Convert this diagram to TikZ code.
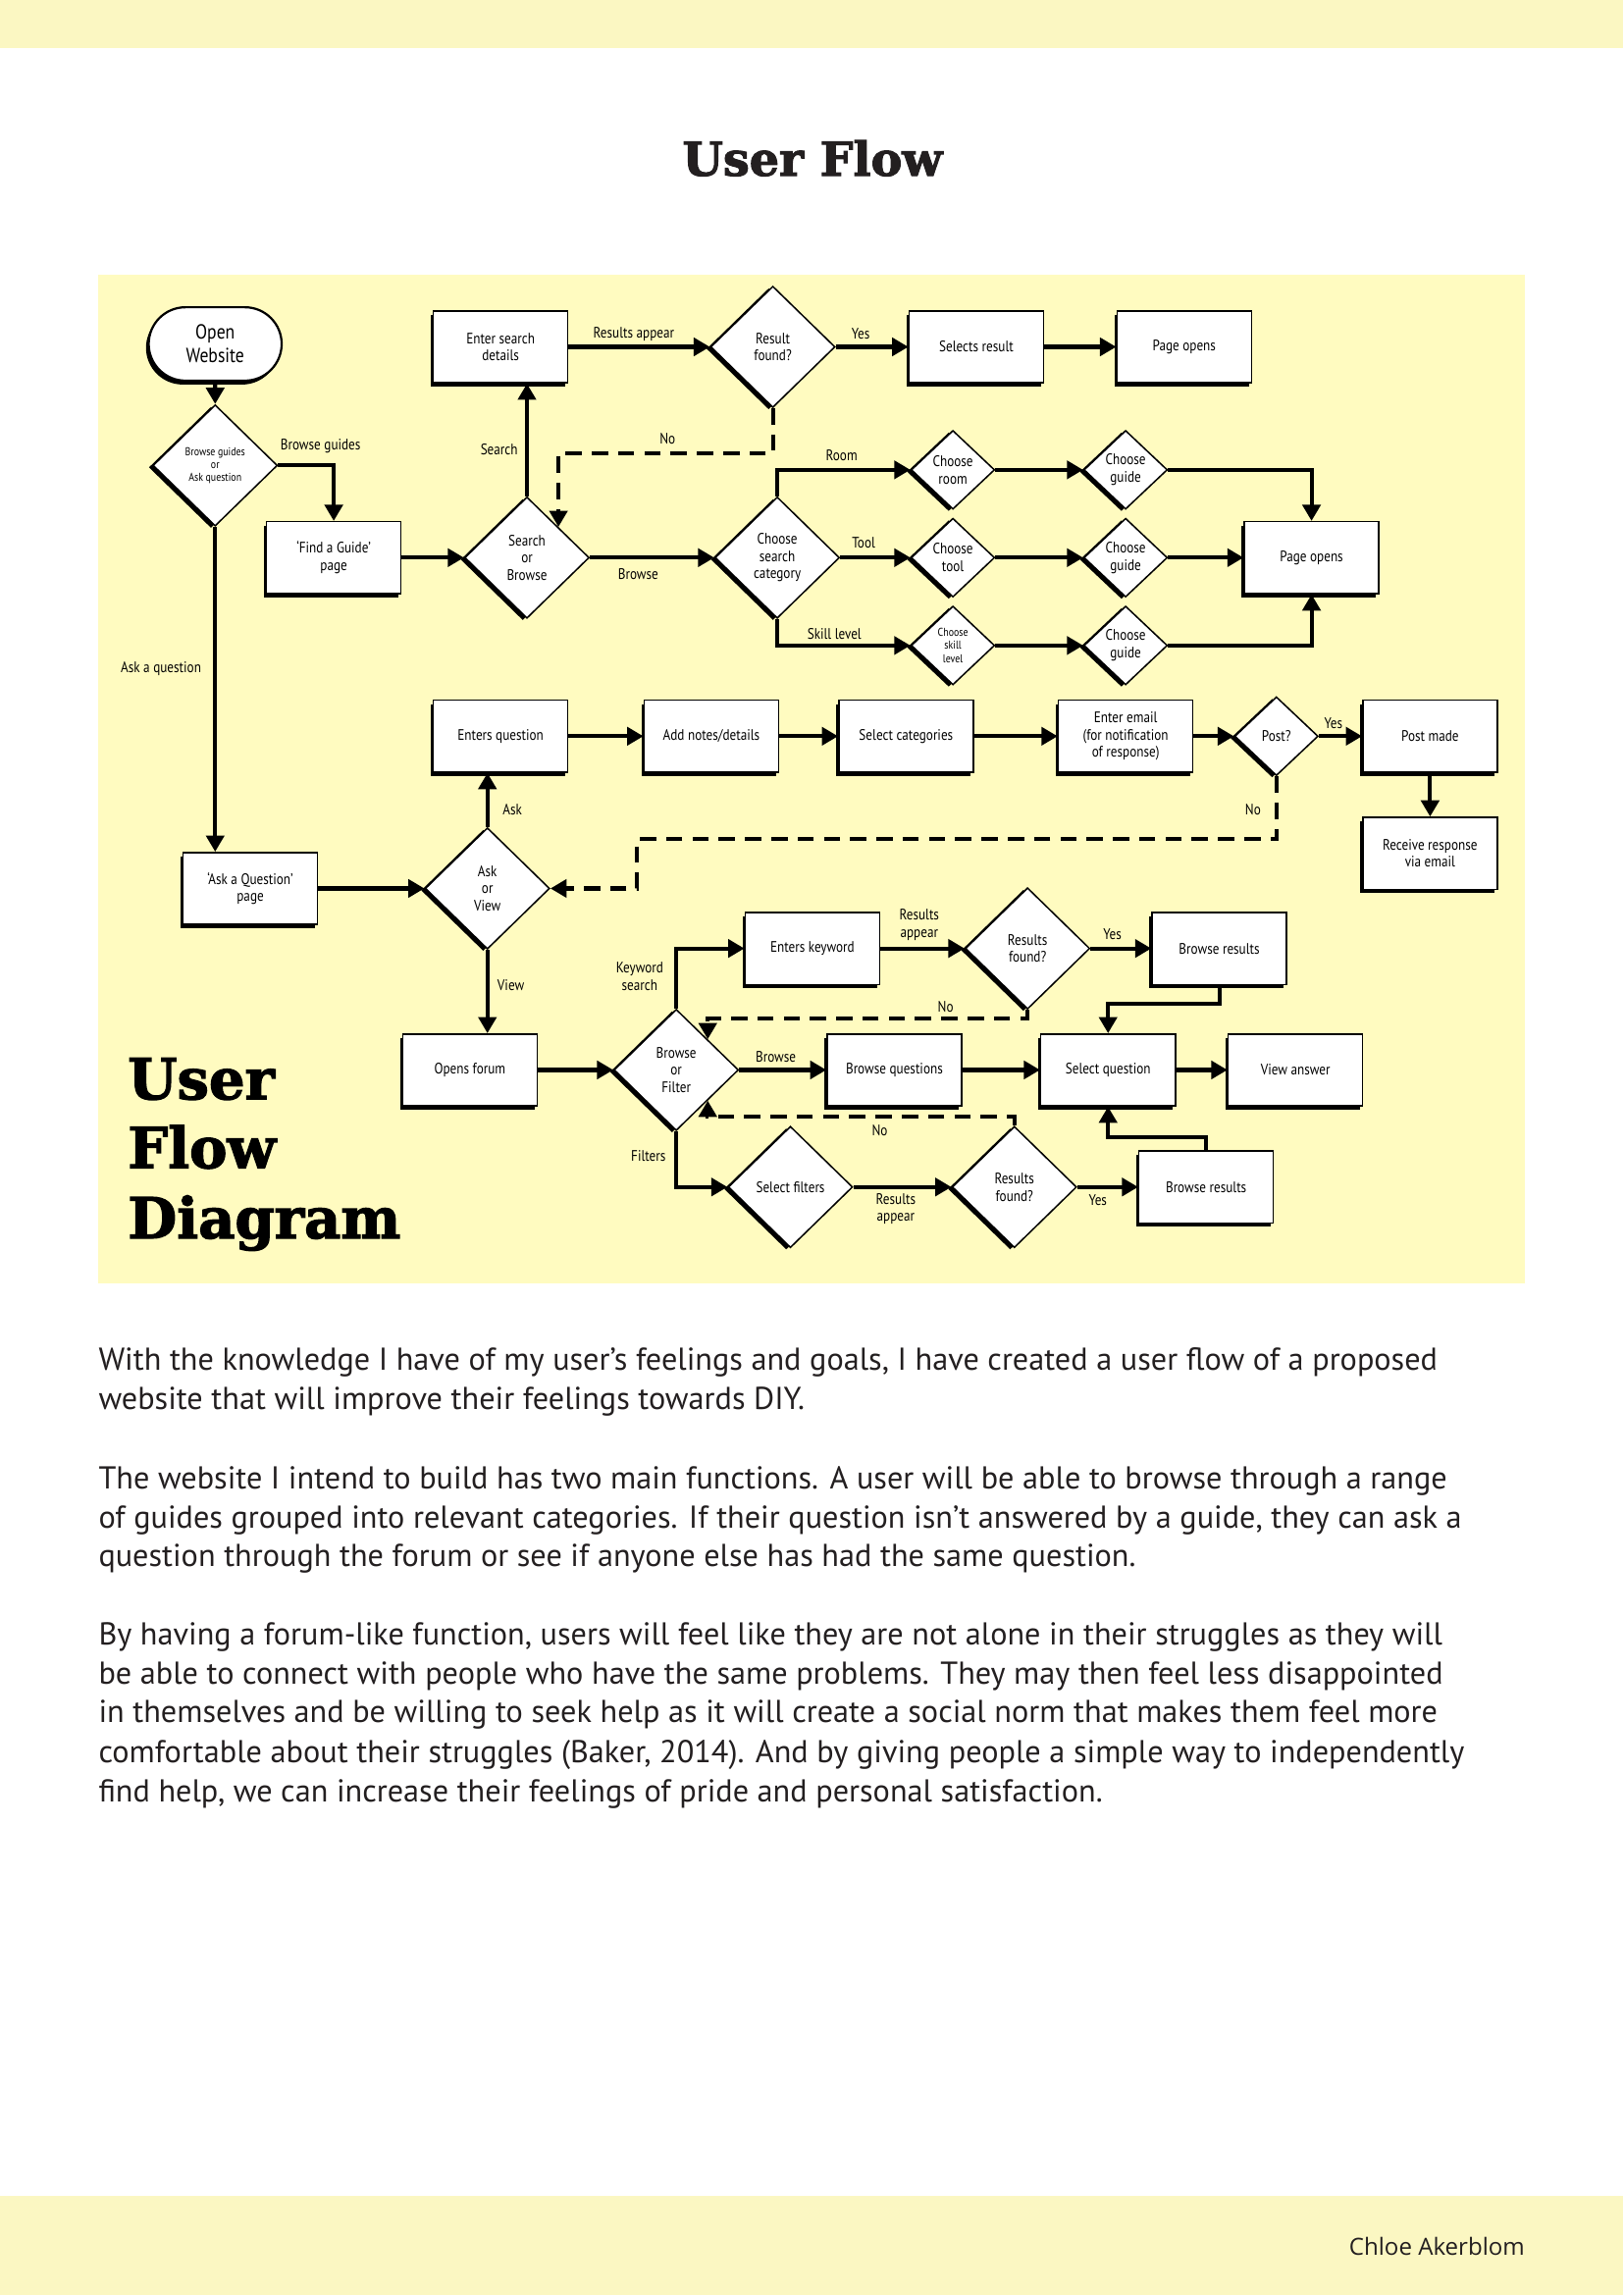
\documentclass[tikz,border=0pt]{standalone}
\usepackage{fontspec}
\usetikzlibrary{shapes.geometric,shapes.misc,arrows.meta,shadows,calc}
\setmainfont{PT Sans}
\newfontfamily\diagf[FakeStretch=0.85]{PT Sans}
\newfontfamily\footf{Open Sans}
\newfontfamily\titlef[BoldFeatures={FakeBold=2.2}]{DejaVu Serif}
\definecolor{bandc}{HTML}{FBF7C2}
\definecolor{panelc}{HTML}{FFFBC0}
\definecolor{txt}{HTML}{231F20}
\newcommand\dfont{\diagf\fontsize{5.6}{6.4}\selectfont}
\newcommand\tfont{\diagf\fontsize{4.2}{4.8}\selectfont}
\tikzset{
  shad/.style={drop shadow={shadow xshift=-0.35mm,shadow yshift=-0.5mm,fill=black,opacity=1}},
  dshad/.style={drop shadow={shadow xshift=-0.55mm,shadow yshift=-0.25mm,fill=black,opacity=1}},
  box/.style={rectangle,draw=black,line width=0.55pt,fill=white,minimum width=17.4mm,minimum height=9.3mm,inner sep=0.3mm,align=center,font=\dfont,shad},
  dia/.style={diamond,draw=black,line width=0.55pt,fill=white,minimum width=16.1mm,minimum height=15.7mm,inner sep=0pt,align=center,font=\dfont,dshad},
  sdia/.style={dia,minimum width=10.8mm,minimum height=10.2mm},
  pill/.style={rounded rectangle,draw=black,line width=0.8pt,fill=white,minimum width=18.2mm,minimum height=9.5mm,align=center,inner sep=0.5mm,font=\diagf\fontsize{7.5}{8.6}\selectfont,shad},
  conn/.style={line width=1.5pt,-{Triangle[length=2.1mm,width=2.3mm]}},
  dconn/.style={conn,dash pattern=on 2.1mm off 1.3mm},
  lbl/.style={font=\dfont,inner sep=0pt,align=center},
  body/.style={anchor=base west,inner sep=0pt,text=txt,font=\fontsize{11.65}{14.5}\selectfont},
}
\begin{document}
\begin{tikzpicture}[x=0.18937mm,y=-0.18937mm]
\useasboundingbox (0,0) rectangle (1109,1568);
\fill[white] (0,0) rectangle (1109,1568);
\fill[bandc] (0,0) rectangle (1109,33);
\fill[bandc] (0,1500) rectangle (1109,1568);
\fill[panelc] (67,188) rectangle (1042,877);

\node[anchor=base,inner sep=0pt,text=txt,font=\titlef\bfseries\fontsize{17.2}{20}\selectfont] (title) at (555,120) {User Flow};

% big side title
\node[anchor=base west,inner sep=0pt,font=\titlef\bfseries\fontsize{20.8}{25}\selectfont] (bt1) at (87,751) {User};
\node[anchor=base west,inner sep=0pt,font=\titlef\bfseries\fontsize{20.8}{25}\selectfont] (bt2) at (87,798) {Flow};
\node[anchor=base west,inner sep=0pt,font=\titlef\bfseries\fontsize{20.8}{25}\selectfont] (bt3) at (87,846) {Diagram};

% nodes
\node[pill] (ow) at (147,235) {Open\\Website};
\node[dia,font=\tfont] (d1) at (147,318) {Browse guides\\or\\Ask question};
\node[box] (fg) at (228,381) {‘Find a Guide’\\page};
\node[dia] (sob) at (360,381) {Search\\or\\Browse};
\node[box] (esd) at (342,237) {Enter search\\details};
\node[dia] (rf) at (528,237) {Result\\found?};
\node[box] (sr) at (667,237) {Selects result};
\node[box] (po1) at (809,237) {Page opens};
\node[dia] (csc) at (531,381) {Choose\\search\\category};
\node[sdia] (cr) at (651,321) {Choose\\room};
\node[sdia] (cg1) at (769,321) {Choose\\guide};
\node[sdia] (ct) at (651,381) {Choose\\tool};
\node[sdia] (cg2) at (769,381) {Choose\\guide};
\node[sdia,font=\tfont] (csl) at (651,441) {Choose\\skill\\level};
\node[sdia] (cg3) at (769,441) {Choose\\guide};
\node[box] (po2) at (896,381) {Page opens};
\node[box] (eq) at (342,503) {Enters question};
\node[box] (an) at (486,503) {Add notes/details};
\node[box] (sc) at (619,503) {Select categories};
\node[box] (ee) at (769,503) {Enter email\\(for notification\\of response)};
\node[sdia] (post) at (872,503) {Post?};
\node[box] (pm) at (977,503) {Post made};
\node[box] (rr) at (977,583) {Receive response\\via email};
\node[box] (aq) at (171,607) {‘Ask a Question’\\page};
\node[dia] (aov) at (333,607) {Ask\\or\\View};
\node[box] (of) at (321,731) {Opens forum};
\node[dia] (bof) at (462,731) {Browse\\or\\Filter};
\node[box] (ek) at (555,648) {Enters keyword};
\node[dia] (rft) at (702,648) {Results\\found?};
\node[box] (brt) at (833,648) {Browse results};
\node[box] (bq) at (611,731) {Browse questions};
\node[box] (sq) at (757,731) {Select question};
\node[box] (va) at (885,731) {View answer};
\node[dia] (sf) at (540,811) {Select filters};
\node[dia] (rfb) at (693,811) {Results\\found?};
\node[box] (brb) at (824,811) {Browse results};

% connectors
\draw[conn] (ow) -- (d1);
\draw[conn] (d1.east) -| (fg.north);
\draw[conn] (d1.south) -- (d1.south |- aq.north);
\draw[conn] (fg) -- (sob);
\draw[conn] (sob.north) -- (sob.north |- esd.south);
\draw[conn] (esd) -- (rf);
\draw[conn] (rf) -- (sr);
\draw[conn] (sr) -- (po1);
\draw[dconn] (rf.south) -- ++(0,31) -| (sob.north east);
\draw[conn] (sob) -- (csc);
\draw[conn] (csc.north) |- (cr.west);
\draw[conn] (csc) -- (ct);
\draw[conn] (csc.south) |- (csl.west);
\draw[conn] (cr) -- (cg1);
\draw[conn] (ct) -- (cg2);
\draw[conn] (csl) -- (cg3);
\draw[conn] (cg1.east) -| (po2.north);
\draw[conn] (cg2) -- (po2);
\draw[conn] (cg3.east) -| (po2.south);
\draw[conn] (aq) -- (aov);
\draw[conn] (aov.north) -- (aov.north |- eq.south);
\draw[conn] (eq) -- (an);
\draw[conn] (an) -- (sc);
\draw[conn] (sc) -- (ee);
\draw[conn] (ee) -- (post);
\draw[conn] (post) -- (pm);
\draw[conn] (pm) -- (rr);
\draw[dconn] (post.south) -- ++(0,43) -| ($(aov.east)+(59,0)$) -- (aov.east);
\draw[conn] (aov.south) -- (aov.south |- of.north);
\draw[conn] (of) -- (bof);
\draw[conn] (bof.north) |- (ek.west);
\draw[conn] (ek) -- (rft);
\draw[conn] (rft) -- (brt);
\draw[dconn] (rft.south) -- ++(0,6) coordinate (c1) -- (c1 -| bof.north east) -- (bof.north east);
\draw[conn] (brt.south) -- ++(0,13) -| (sq.north);
\draw[conn] (bof) -- (bq);
\draw[conn] (bq) -- (sq);
\draw[conn] (sq) -- (va);
\draw[conn] (bof.south) |- (sf.west);
\draw[conn] (sf) -- (rfb);
\draw[conn] (rfb) -- (brb);
\draw[dconn] (rfb.north) -- ++(0,-6) coordinate (c2) -- (c2 -| bof.south east) -- (bof.south east);
\draw[conn] (brb.north) -- ++(0,-9) -| (sq.south);

% labels
\node[lbl] (l1) at (219,305) {Browse guides};
\node[lbl] (l2) at (110,457) {Ask a question};
\node[lbl] (l3) at (341,307) {Search};
\node[lbl] (l4) at (433,228) {Results appear};
\node[lbl] (l5) at (588,228) {Yes};
\node[lbl] (l6) at (456,300) {No};
\node[lbl] (l7) at (436,392) {Browse};
\node[lbl] (l8) at (575,311) {Room};
\node[lbl] (l9) at (590,371) {Tool};
\node[lbl] (l10) at (570,433) {Skill level};
\node[lbl] (l11) at (350,553) {Ask};
\node[lbl] (l12) at (911,494) {Yes};
\node[lbl] (l13) at (856,553) {No};
\node[lbl] (l14) at (349,673) {View};
\node[lbl] (l15) at (437,667) {Keyword\\search};
\node[lbl] (l16) at (628,632) {Results\\appear};
\node[lbl] (l17) at (760,638) {Yes};
\node[lbl] (l18) at (646,688) {No};
\node[lbl] (l19) at (530,722) {Browse};
\node[lbl] (l20) at (443,790) {Filters};
\node[lbl] (l21) at (612,826) {Results\\appear};
\node[lbl] (l22) at (750,820) {Yes};
\node[lbl] (l23) at (601,772) {No};

% body text
\node[body] (p1) at (67,936) {With the knowledge I have of my user’s feelings and goals, I have created a user flow of a proposed};
\node[body] (p2) at (67,963) {website that will improve their feelings towards DIY.};
\node[body] (p3) at (67,1017) {The website I intend to build has two main functions. A user will be able to browse through a range};
\node[body] (p4) at (67,1044) {of guides grouped into relevant categories. If their question isn’t answered by a guide, they can ask a};
\node[body] (p5) at (67,1070) {question through the forum or see if anyone else has had the same question.};
\node[body] (p6) at (67,1124) {By having a forum-like function, users will feel like they are not alone in their struggles as they will};
\node[body] (p7) at (67,1151) {be able to connect with people who have the same problems. They may then feel less disappointed};
\node[body] (p8) at (67,1177) {in themselves and be willing to seek help as it will create a social norm that makes them feel more};
\node[body] (p9) at (67,1204) {comfortable about their struggles (Baker, 2014). And by giving people a simple way to independently};
\node[body] (p10) at (67,1231) {find help, we can increase their feelings of pride and personal satisfaction.};

\node[anchor=base east,inner sep=0pt,text=txt,font=\footf\fontsize{8.7}{10}\selectfont] (foot) at (1042,1541) {Chloe Akerblom};
\end{tikzpicture}
\end{document}
